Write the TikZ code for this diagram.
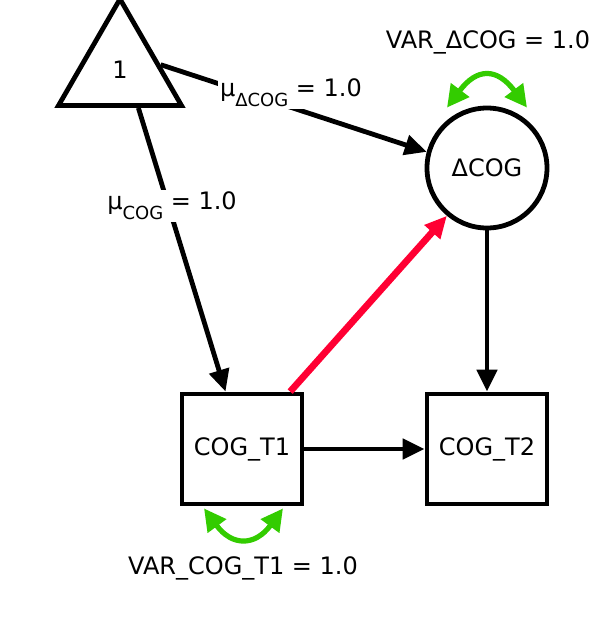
\documentclass[tikz,border=0pt]{standalone}
\usepackage{fontspec}
\setmainfont{DejaVu Sans}
\usetikzlibrary{calc}
\usetikzlibrary{arrows.meta}
\usetikzlibrary{shapes.geometric}

\definecolor{pathred}{RGB}{255,0,51}
\definecolor{vargreen}{RGB}{51,204,0}

\begin{document}
\begin{tikzpicture}[
        x=0.5pt, y=-0.5pt,
        >={Triangle[length=11pt,width=10pt]},
        every node/.style={font=\fontsize{12pt}{14pt}\selectfont},
        manifest/.style={draw=black, line width=2.4pt,
            minimum width=60pt, minimum height=55pt},
        latent/.style={draw=black, line width=2.4pt, circle, minimum size=60pt},
        const/.style={draw=black, line width=2.4pt, regular polygon,
            regular polygon sides=3, minimum size=71pt, inner sep=0pt},
        regr/.style={->, line width=2.4pt},
        varpath/.style={
            {Triangle[length=11pt,width=11pt]}-{Triangle[length=11pt,width=11pt]},
            line width=2.6pt, color=vargreen},
        coef/.style={fill=white, inner sep=1pt}
    ]

    \useasboundingbox (0,0) rectangle (608,618);

    \node[const] (one) at (120,70) {1};
    \node[latent] (dcog) at (487,168) {ΔCOG};
    \node[manifest] (t1) at (242,449) {COG\_T1};
    \node[manifest] (t2) at (487,449) {COG\_T2};

    \draw[regr] ($(one.corner 1)!0.62!(one.corner 3)$) -- (dcog.165);
    \draw[regr] ($(one.corner 2)!0.64!(one.corner 3)$) -- (t1.106);
    \draw[regr] (t1) -- (t2);
    \draw[regr] (dcog) -- (t2);
    \draw[regr, color=pathred, line width=3.4pt] (t1.50) -- (dcog.230);

    \coordinate (dvl) at ($(dcog.north)+(-40,2)$);
    \coordinate (dvr) at ($(dcog.north)+(40,2)$);
    \coordinate (tvl) at ($(t1.south)+(-38,2)$);
    \coordinate (tvr) at ($(t1.south)+(41,2)$);

    \draw[varpath] (dvl) .. controls +(30,-40) and +(-30,-40) .. (dvr);
    \draw[varpath] (tvl) .. controls +(28,38) and +(-28,38) .. (tvr);

    \node[coef] (mudcog) at (291,93)
        {μ\raisebox{-5pt}{\fontsize{9pt}{10pt}\selectfont ΔCOG} = 1.0};
    \node[coef] (mucog) at (172,206)
        {μ\raisebox{-5pt}{\fontsize{9pt}{10pt}\selectfont COG} = 1.0};
    \node (vardcog) at (488,42) {VAR\_ΔCOG = 1.0};
    \node (vart1) at (243,568) {VAR\_COG\_T1 = 1.0};

\end{tikzpicture}
\end{document}
